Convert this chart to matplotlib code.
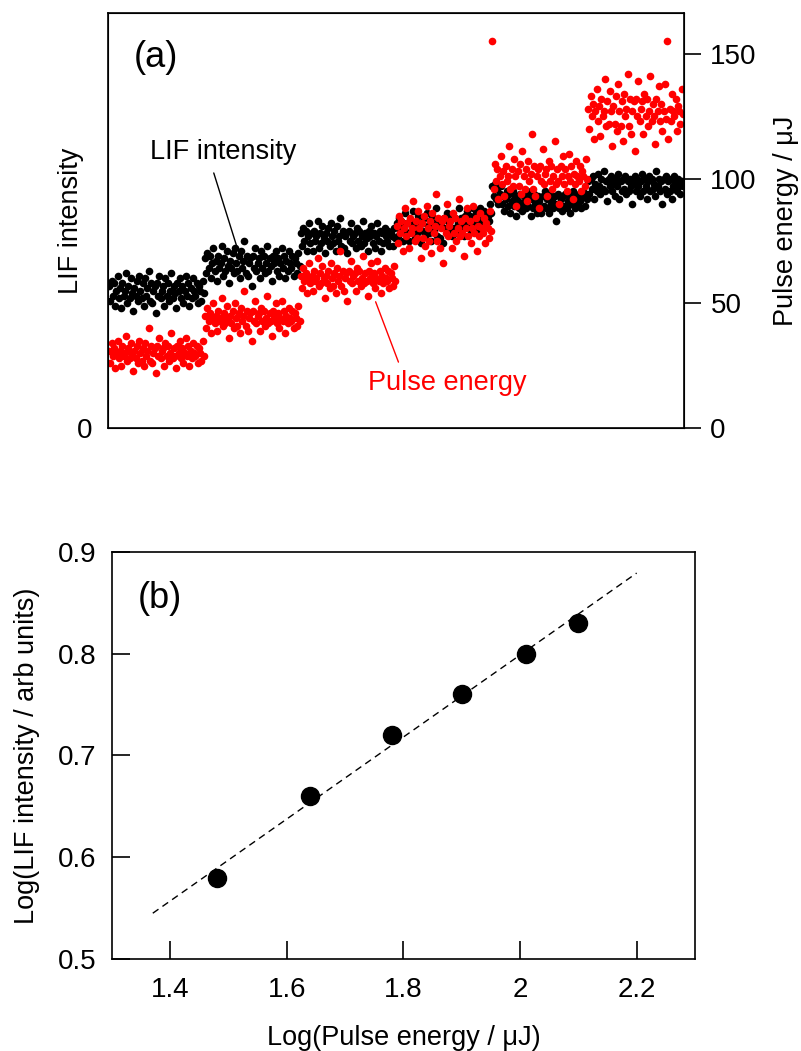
import numpy as np
import matplotlib
matplotlib.use('Agg')
import matplotlib.pyplot as plt

plt.rcParams['font.family'] = ['Liberation Sans', 'DejaVu Sans']

# (a) shot-by-shot values, 6 energy steps, read on the right axis scale (uJ)
lif_step1 = [57, 51, 59, 53, 58, 49, 55, 61, 52, 56,
             48, 58, 53, 55, 62, 50, 57, 52, 60, 54,
             47, 56, 53, 59, 51, 61, 55, 52, 58, 49,
             60, 53, 56, 63, 51, 58, 50, 55, 57, 46,
             58, 53, 61, 52, 55, 57, 49, 60, 53, 58,
             51, 55, 62, 52, 57, 54, 48, 58, 55, 60,
             52, 57, 50, 55, 61, 53, 58, 49, 56, 52,
             60, 55, 53, 58, 50, 57, 55, 51, 59, 54]
lif_step2 = [68, 62, 70, 64, 69, 60, 66, 72, 63, 67,
             59, 69, 64, 66, 73, 61, 68, 63, 71, 65,
             58, 67, 64, 70, 62, 72, 66, 63, 69, 60,
             71, 64, 67, 75, 62, 69, 61, 66, 68, 57,
             69, 64, 72, 63, 66, 68, 60, 71, 64, 69,
             62, 66, 73, 63, 68, 65, 59, 69, 66, 71,
             63, 68, 61, 66, 72, 64, 69, 60, 67, 63,
             71, 66, 64, 69, 61, 68, 66, 62, 70, 65]
lif_step3 = [78, 73, 80, 75, 79, 71, 77, 82, 74, 78,
             71, 79, 75, 77, 83, 72, 78, 74, 81, 76,
             70, 78, 75, 80, 73, 82, 77, 74, 79, 71,
             81, 75, 77, 84, 73, 79, 72, 77, 78, 70,
             79, 75, 82, 74, 77, 78, 72, 80, 75, 79,
             73, 77, 83, 74, 78, 76, 71, 79, 77, 81,
             74, 78, 72, 77, 82, 75, 79, 71, 78, 74,
             80, 77, 75, 79, 73, 78, 77, 73, 80, 76]
lif_step4 = [82, 77, 84, 79, 83, 75, 81, 86, 78, 82,
             75, 83, 79, 81, 87, 76, 82, 78, 85, 80,
             74, 82, 79, 84, 77, 86, 81, 78, 83, 75,
             85, 79, 82, 88, 77, 83, 76, 81, 83, 74,
             84, 80, 86, 79, 82, 84, 77, 85, 80, 84,
             78, 82, 88, 79, 84, 81, 77, 85, 82, 87,
             80, 85, 79, 83, 88, 81, 86, 79, 85, 82,
             88, 84, 83, 87, 81, 86, 85, 83, 90, 86]
lif_step5 = [97, 93, 98, 92, 96, 90, 94, 97, 90, 93,
             87, 92, 95, 89, 94, 86, 91, 95, 89, 93,
             85, 91, 88, 94, 89, 87, 93, 91, 88, 95,
             89, 93, 85, 92, 88, 94, 90, 86, 93, 91,
             88, 86, 93, 89, 95, 88, 92, 86, 94, 90,
             91, 88, 93, 83, 90, 94, 88, 92, 87, 93,
             89, 94, 88, 91, 93, 86, 90, 95, 91, 88,
             93, 89, 94, 91, 88, 93, 95, 89, 94, 92]
lif_step6 = [99, 94, 100, 96, 101, 92, 98, 95, 102, 97,
             94, 100, 96, 103, 95, 99, 91, 100, 97, 101,
             95, 99, 93, 100, 97, 102, 92, 99, 95, 100,
             96, 101, 94, 99, 95, 100, 97, 90, 98, 101,
             95, 100, 97, 93, 99, 102, 95, 100, 97, 92,
             99, 101, 95, 100, 96, 98, 93, 103, 97, 100,
             95, 99, 90, 100, 96, 101, 94, 99, 95, 100,
             92, 97, 101, 99, 95, 100, 97, 94, 99, 97]

pulse_step1 = [31, 26, 34, 29, 32, 24, 30, 35, 28, 31,
               25, 33, 29, 30, 37, 27, 32, 28, 34, 30,
               23, 31, 28, 33, 26, 35, 30, 27, 32, 25,
               34, 29, 31, 40, 27, 33, 26, 30, 32, 22,
               33, 29, 36, 28, 31, 32, 25, 34, 29, 33,
               27, 30, 38, 28, 32, 29, 24, 33, 30, 35,
               28, 32, 26, 30, 36, 29, 33, 25, 31, 28,
               34, 30, 29, 33, 26, 32, 30, 27, 35, 29]
pulse_step2 = [45, 40, 48, 43, 46, 38, 44, 50, 42, 45,
               39, 47, 43, 44, 52, 41, 46, 42, 49, 44,
               36, 45, 42, 47, 40, 50, 44, 41, 46, 38,
               48, 43, 45, 55, 41, 47, 39, 44, 46, 35,
               47, 43, 51, 42, 45, 46, 39, 48, 43, 47,
               41, 44, 53, 42, 46, 43, 37, 47, 44, 50,
               42, 46, 40, 44, 51, 43, 47, 38, 45, 42,
               48, 44, 43, 47, 40, 46, 44, 41, 49, 43]
pulse_step3 = [61, 56, 64, 59, 62, 54, 60, 66, 58, 61,
               55, 63, 59, 60, 68, 57, 62, 58, 65, 60,
               52, 61, 58, 63, 56, 66, 60, 57, 62, 54,
               64, 59, 61, 71, 57, 63, 55, 60, 62, 51,
               63, 59, 67, 58, 61, 62, 55, 64, 59, 63,
               57, 60, 69, 58, 62, 59, 53, 63, 60, 66,
               58, 62, 56, 60, 67, 59, 63, 54, 61, 58,
               64, 60, 59, 63, 56, 62, 60, 57, 65, 59]
pulse_step4 = [81, 74, 85, 78, 83, 71, 80, 88, 77, 82,
               72, 84, 78, 80, 91, 75, 83, 76, 87, 80,
               68, 82, 76, 85, 73, 89, 80, 75, 83, 70,
               86, 78, 81, 94, 75, 84, 72, 80, 83, 66,
               84, 78, 90, 77, 81, 83, 72, 86, 78, 84,
               75, 80, 92, 77, 83, 78, 69, 84, 80, 88,
               77, 83, 74, 80, 89, 78, 84, 71, 81, 77,
               86, 80, 78, 84, 74, 82, 80, 76, 87, 79]
pulse_step5 = [155, 96, 106, 99, 104, 92, 101, 109, 98, 103,
               93, 105, 99, 101, 113, 96, 104, 97, 108, 101,
               89, 103, 97, 106, 94, 111, 101, 96, 104, 91,
               107, 99, 102, 118, 96, 105, 93, 101, 104, 88,
               105, 99, 112, 98, 102, 104, 93, 107, 99, 105,
               96, 101, 115, 98, 104, 99, 90, 105, 101, 109,
               98, 104, 95, 101, 110, 99, 105, 92, 102, 98,
               107, 101, 99, 105, 95, 103, 101, 97, 108, 100]
pulse_step6 = [128, 120, 133, 125, 130, 116, 127, 136, 123, 129,
               117, 132, 125, 127, 140, 121, 131, 122, 135, 127,
               113, 129, 122, 133, 119, 138, 127, 121, 131, 115,
               134, 125, 128, 142, 121, 132, 118, 127, 131, 111,
               132, 125, 139, 123, 128, 131, 118, 134, 125, 132,
               121, 127, 141, 123, 130, 125, 114, 132, 127, 137,
               123, 130, 119, 127, 138, 124, 155, 116, 128, 123,
               134, 127, 125, 132, 119, 129, 127, 122, 136, 126]

# (b) log-log plot
log_energy = [1.48, 1.64, 1.78, 1.90, 2.01, 2.10]
log_lif = [0.58, 0.66, 0.72, 0.76, 0.80, 0.83]
fit_x = [1.37, 2.20]
fit_y = [0.545, 0.879]

lif = np.concatenate([lif_step1, lif_step2, lif_step3, lif_step4, lif_step5, lif_step6])
pulse = np.concatenate([pulse_step1, pulse_step2, pulse_step3, pulse_step4, pulse_step5, pulse_step6])
shot = np.arange(len(lif))

fig = plt.figure(figsize=(8.01, 10.51), dpi=100)

#panel (a)
ax1 = fig.add_axes([0.1348, 0.5928, 0.7191, 0.3951])
ax1.plot(shot, lif, 'o', color='black', ms=5.5, mec='none')
ax1.plot(shot, pulse, 'o', color='red', ms=5.5, mec='none')
ax1.set_xlim(-1, len(shot))
ax1.set_ylim(0, 166.5)
ax1.set_xticks([])
ax1.set_yticks([0])
ax1.tick_params(axis='y', length=0, pad=11, labelsize=20)
ax1.set_ylabel('LIF intensity', fontsize=19.5)
ax1.yaxis.set_label_coords(-0.042, 0.5)
for s in ax1.spines.values():
    s.set_linewidth(1.2)

ax2 = ax1.twinx()
ax2.set_ylim(0, 166.5)
ax2.set_yticks([0, 50, 100, 150])
ax2.tick_params(axis='y', direction='out', length=12, width=1.2, pad=7, labelsize=20)
ax2.set_ylabel('Pulse energy / μJ', fontsize=19.5)
ax2.yaxis.set_label_coords(1.155, 0.5)

ax1.text(0.083, 0.891, '(a)', transform=ax1.transAxes, fontsize=26, ha='center', va='center')
ax1.annotate('LIF intensity', xy=(107, 72.1), xytext=(95, 110.7), fontsize=19.5,
             ha='center', va='center',
             arrowprops=dict(arrowstyle='-', color='black', lw=1, shrinkA=4, shrinkB=0, relpos=(0.42, 0)))
ax1.annotate('Pulse energy', xy=(222.5, 50.6), xytext=(282.5, 18.0), fontsize=19.5, color='red',
             ha='center', va='center',
             arrowprops=dict(arrowstyle='-', color='red', lw=1, shrinkA=4, shrinkB=0, relpos=(0.21, 1)))

#panel (b)
ax3 = fig.add_axes([0.1398, 0.0875, 0.7278, 0.3876])
ax3.plot(fit_x, fit_y, '--', color='black', lw=1, dashes=(5, 3.5))
ax3.plot(log_energy, log_lif, 'o', color='black', ms=13)
ax3.set_xlim(1.3, 2.3)
ax3.set_ylim(0.5, 0.9)
ax3.set_xticks([1.4, 1.6, 1.8, 2.0, 2.2])
ax3.set_xticklabels(['1.4', '1.6', '1.8', '2', '2.2'])
ax3.set_yticks([0.5, 0.6, 0.7, 0.8, 0.9])
ax3.set_yticklabels(['0.5', '0.6', '0.7', '0.8', '0.9'])
ax3.tick_params(direction='in', length=13, width=1.2, labelsize=20)
ax3.tick_params(axis='x', pad=13)
ax3.tick_params(axis='y', pad=11)
ax3.set_xlabel('Log(Pulse energy / μJ)', fontsize=19.5)
ax3.set_ylabel('Log(LIF intensity / arb units)', fontsize=19.5)
ax3.xaxis.set_label_coords(0.5, -0.162)
ax3.yaxis.set_label_coords(-0.1235, 0.5)
for s in ax3.spines.values():
    s.set_linewidth(1.2)
ax3.text(0.082, 0.884, '(b)', transform=ax3.transAxes, fontsize=26, ha='center', va='center')

plt.savefig('out.png', dpi=100)
